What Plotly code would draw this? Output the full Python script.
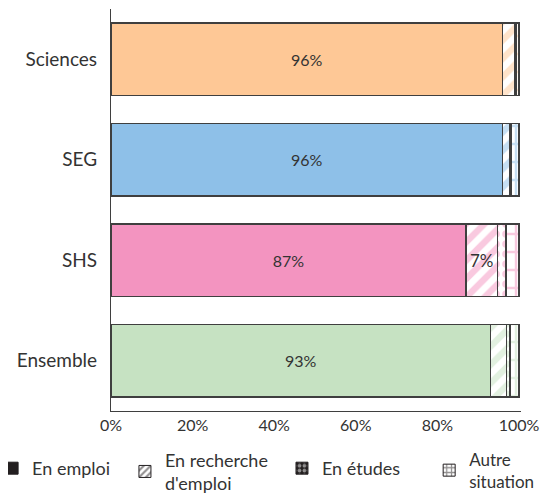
import plotly.graph_objects as go

categories = ["Sciences", "SEG", "SHS", "Ensemble"]
series_names = ["En emploi", "En recherche<br>d'emploi", "En études", "Autre<br>situation"]
en_emploi = [96, 96, 87, 93]
en_recherche = [2.9, 1.8, 7.7, 4.0]
en_etudes = [0.4, 0.3, 2.1, 0.8]
autre = [0.7, 1.9, 3.2, 2.2]
emploi_labels = ["96%", "96%", "87%", "93%"]
recherche_labels = ["", "", "7%", ""]
x_ticks = [0, 20, 40, 60, 80, 100]
x_ticklabels = ["0%", "20%", "40%", "60%", "80%", "100%"]

bar_colors = ["#FEC896", "#8EC0E8", "#F394C0", "#C6E2C2"]
FONT = "Lato"
LINE = dict(color="#3f3f3f", width=1.5)

fig = go.Figure()

fig.add_trace(go.Bar(
    y=categories, x=en_emploi, orientation="h", name=series_names[0],
    marker=dict(color=bar_colors, line=LINE),
    text=emploi_labels, textposition="inside", insidetextanchor="middle",
    textangle=0, textfont=dict(color="#333", size=16, family=FONT),
    showlegend=False, hoverinfo="skip"))

patterns = [("/", en_recherche, recherche_labels, 13, 0.5), (".", en_etudes, None, 10, 0.45),
            ("+", autre, None, 18, 0.25)]
for (shape, vals, labels, psize, sol), name in zip(patterns, series_names[1:]):
    fig.add_trace(go.Bar(
        y=categories, x=vals, orientation="h", name=name,
        marker=dict(color="white", line=LINE,
                    pattern=dict(shape=shape, fgcolor=bar_colors, bgcolor="white",
                                 size=psize, solidity=sol, fillmode="overlay")),
        text=labels if labels else None,
        textposition="inside" if labels else None,
        insidetextanchor="middle", textangle=0,
        textfont=dict(color="#333", size=17, family=FONT),
        showlegend=False, hoverinfo="skip"))

# legend entries (black icons), each in its own legend box
legend_ids = ["legend", "legend2", "legend3", "legend4"]
fig.add_trace(go.Bar(y=[None], x=[None], orientation="h", name=series_names[0],
                     legend=legend_ids[0],
                     marker=dict(color="#231f20", line=dict(color="#231f20", width=1))))
legend_styles = [("/", "white", "#231f20"), (".", "#231f20", "white"), ("+", "white", "#231f20")]
for (shape, bg, fg), name, lid in zip(legend_styles, series_names[1:], legend_ids[1:]):
    fig.add_trace(go.Bar(y=[None], x=[None], orientation="h", name=name, legend=lid,
                         marker=dict(color=bg, line=dict(color="#231f20", width=1),
                                     pattern=dict(shape=shape, fgcolor=fg,
                                                  bgcolor=bg, size=6, solidity=0.45))))

def leg(x, y, size=18):
    return dict(orientation="h", x=x, xanchor="left", y=y, yanchor="top",
                font=dict(size=size, family=FONT, color="#333"), itemwidth=30,
                bgcolor="rgba(0,0,0,0)")

fig.update_layout(
    barmode="stack",
    bargap=0.28,
    width=542, height=487,
    margin=dict(l=103, r=29, t=1, b=84, autoexpand=False),
    paper_bgcolor="white", plot_bgcolor="white",
    font=dict(family=FONT, size=18, color="#333"),
    xaxis=dict(range=[0, 100.5], tickvals=x_ticks, ticktext=x_ticklabels,
               showgrid=False, zeroline=False, showline=True,
               linecolor="#3f3f3f", linewidth=1.2, ticks="", ticklen=0,
               ticklabelstandoff=0, tickfont=dict(size=16)),
    yaxis=dict(categoryorder="array", categoryarray=categories, autorange="reversed",
               showgrid=False, zeroline=False, showline=True,
               linecolor="#3f3f3f", linewidth=1.2, ticks="", ticklen=0,
               ticklabelstandoff=9, tickfont=dict(size=19)),
    legend=leg(-0.290, -0.097),
    legend2=leg(0.034, -0.076),
    legend3=leg(0.417, -0.097),
    legend4=leg(0.776, -0.076, 17),
)

fig.write_html("out.html")
